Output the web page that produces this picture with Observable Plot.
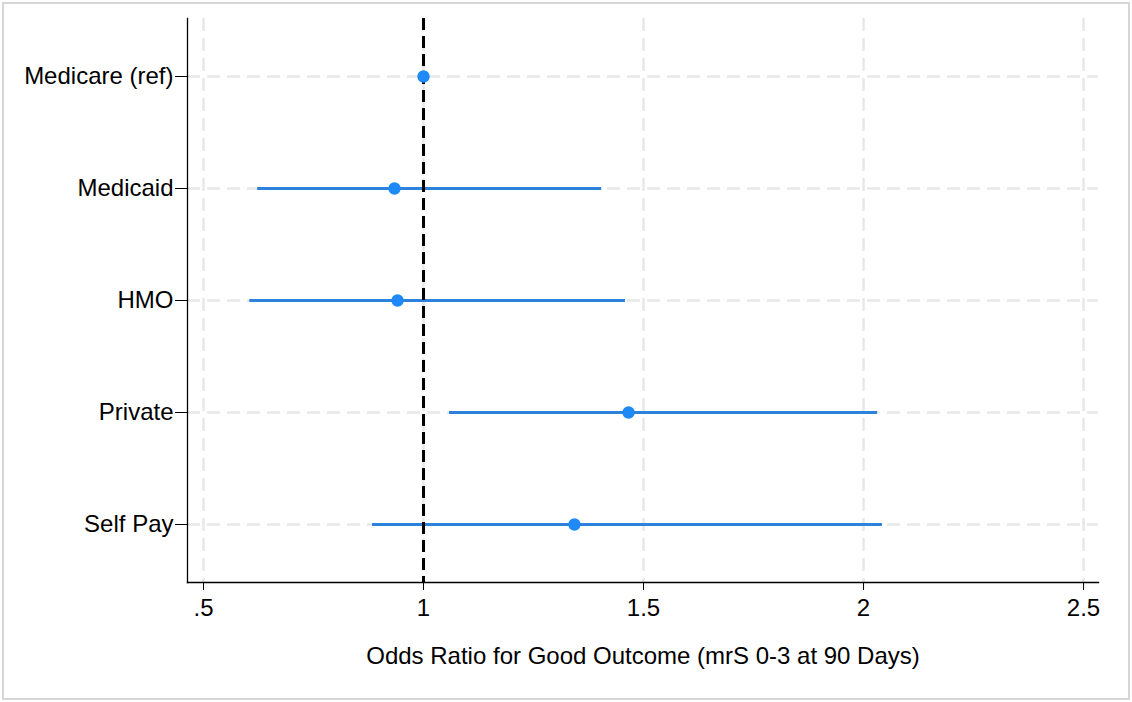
<!DOCTYPE html>
<html>
<head>
<meta charset="utf-8">
<script src="https://cdn.jsdelivr.net/npm/d3@7"></script>
<script src="https://cdn.jsdelivr.net/npm/@observablehq/plot@0.6"></script>
<style>
  html, body { margin: 0; padding: 0; background: #fff; }
  #wrap { position: relative; width: 1132px; height: 702px; }
  #border { position: absolute; left: 2px; top: 2px; width: 1128px; height: 698px; box-sizing: border-box; border: 2px solid #d6d6d6; pointer-events: none; }
  svg { font-family: "Liberation Sans", Arial, sans-serif; }
</style>
</head>
<body>
<div id="wrap"><div id="border"></div></div>
<script>
const categories = ["Medicare (ref)", "Medicaid", "HMO", "Private", "Self Pay"];
const oddsRatio = [1, 0.934, 0.941, 1.466, 1.343];
const ciLower = [1, 0.623, 0.605, 1.059, 0.884];
const ciUpper = [1, 1.405, 1.459, 2.032, 2.043];
const xTicks = [0.5, 1, 1.5, 2, 2.5];
const xTickLabels = [".5", "1", "1.5", "2", "2.5"];
const xDomain = [0.4636, 2.534];
const refValue = 1;
const xTitle = "Odds Ratio for Good Outcome (mrS 0-3 at 90 Days)";

const rows = categories.map((c, i) => ({category: c, or: oddsRatio[i], lo: ciLower[i], hi: ciUpper[i]}));
const gridColor = "#e8e8e8";
const lineBlue = "#2c82dc";
const dotBlue = "#1f89f7";

const chart = Plot.plot({
  width: 1132,
  height: 702,
  marginLeft: 187,
  marginRight: 34,
  marginTop: 18,
  marginBottom: 120,
  style: {fontFamily: "'Liberation Sans', Arial, sans-serif", fontSize: "24px", color: "#000", background: "transparent"},
  x: {domain: xDomain, label: null},
  y: {type: "point", domain: categories, padding: 0.5, label: null},
  marks: [
    Plot.gridX(xTicks, {stroke: gridColor, strokeOpacity: 1, strokeWidth: 2.5, strokeDasharray: "13,7"}),
    Plot.gridY(categories, {stroke: gridColor, strokeOpacity: 1, strokeWidth: 2.5, strokeDasharray: "13,7"}),
    Plot.ruleY(rows, {y: "category", x1: "lo", x2: "hi", stroke: lineBlue, strokeWidth: 3}),
    Plot.ruleX([refValue], {stroke: "#000", strokeWidth: 3, strokeDasharray: "12,6"}),
    Plot.dot(rows, {x: "or", y: "category", r: 6.2, fill: dotBlue, stroke: "none"}),
    Plot.frame({anchor: "left", stroke: "#000", strokeWidth: 1.3}),
    Plot.frame({anchor: "bottom", stroke: "#000", strokeWidth: 1.3}),
    Plot.axisX(xTicks, {tickSize: 8, tickPadding: 8, fontSize: 24, tickFormat: (d, i) => xTickLabels[xTicks.indexOf(d)], label: null, stroke: "#000", fill: "#000"}),
    Plot.axisY(categories, {tickSize: 12, tickPadding: 2, fontSize: 24, label: null, stroke: "#000", fill: "#000"}),
    Plot.text([xTitle], {frameAnchor: "bottom", dy: 74, fontSize: 24, fill: "#000", lineAnchor: "middle"})
  ]
});
document.getElementById("wrap").prepend(chart);
</script>
</body>
</html>
